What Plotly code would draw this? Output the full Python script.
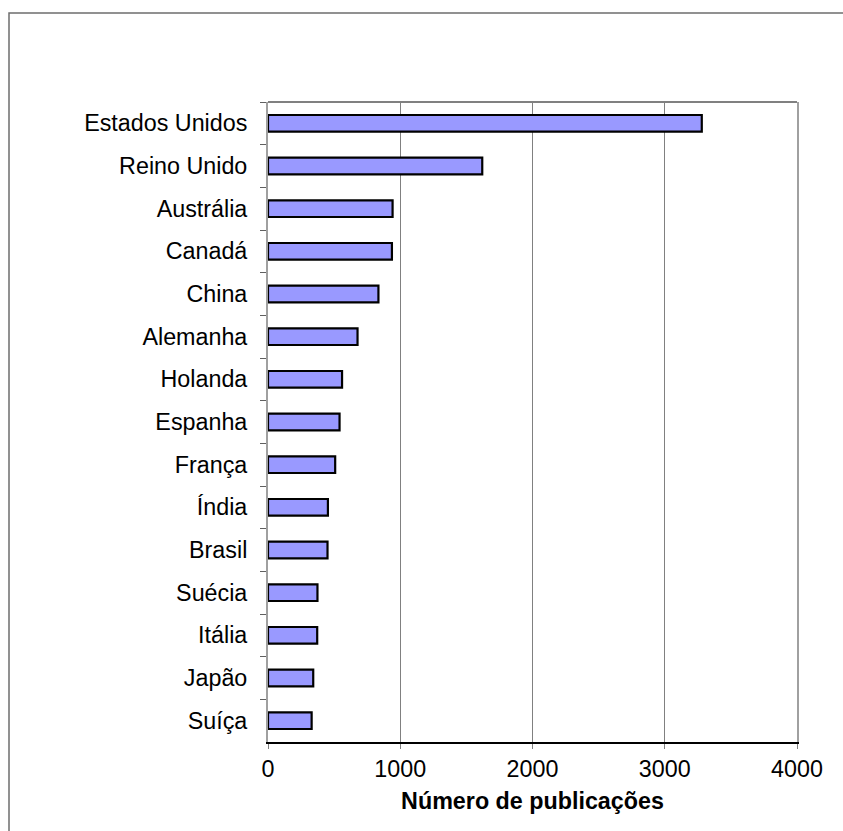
import plotly.graph_objects as go

countries = ["Estados Unidos", "Reino Unido", "Austrália", "Canadá", "China",
             "Alemanha", "Holanda", "Espanha", "França", "Índia", "Brasil",
             "Suécia", "Itália", "Japão", "Suíça"]
publications = [3280, 1620, 942, 937, 835, 677, 560, 541, 508, 453, 450,
                374, 372, 342, 330]
x_ticks = [0, 1000, 2000, 3000, 4000]

W, H = 843, 831
L, R, T, B = 268, 46, 102, 89
pw, ph = W - L - R, H - T - B

fig = go.Figure(go.Bar(
    x=publications, y=countries, orientation="h",
    marker=dict(color="#9999FF", line=dict(color="#000000", width=2.2)),
    hoverinfo="x+y",
))

font = "Liberation Sans, Arial, sans-serif"
fig.update_layout(
    width=W, height=H,
    margin=dict(l=L, r=R, t=T, b=B, pad=0),
    paper_bgcolor="white", plot_bgcolor="white",
    bargap=0.61,
    showlegend=False,
    font=dict(family=font, size=23.3, color="black"),
    xaxis=dict(
        range=[0, 4000], tickvals=x_ticks, ticktext=[str(v) for v in x_ticks],
        showgrid=True, gridcolor="#808080", gridwidth=1,
        showline=True, linecolor="#000000", linewidth=2,
        ticks="outside", ticklen=5, tickcolor="#808080", tickwidth=1,
        zeroline=False, fixedrange=True,
        tickfont=dict(size=23.3),
        title=dict(text="<b>Número de publicações</b>", font=dict(size=23.3), standoff=12),
    ),
    yaxis=dict(
        categoryorder="array", categoryarray=countries, autorange="reversed",
        showgrid=False, zeroline=False,
        showline=True, linecolor="#A0A0A0", linewidth=2, mirror=True,
        ticks="outside", ticklen=6, tickcolor="#606060", tickwidth=1,
        tickson="boundaries", ticklabelstandoff=14,
        tickfont=dict(size=23.3), fixedrange=True,
    ),
    shapes=[
        # top border of plot area
        dict(type="line", xref="paper", yref="paper", x0=0, x1=1, y0=1, y1=1,
             line=dict(color="#808080", width=2)),
        # outer chart frame (top and left edges visible)
        dict(type="rect", xref="paper", yref="paper",
             x0=(9 - L) / pw, x1=(W + 20 - L) / pw,
             y0=-(B + 20) / ph, y1=(ph + T - 13) / ph,
             line=dict(color="#6E6E6E", width=1.5), layer="below"),
    ],
)

fig.write_html("out.html")
